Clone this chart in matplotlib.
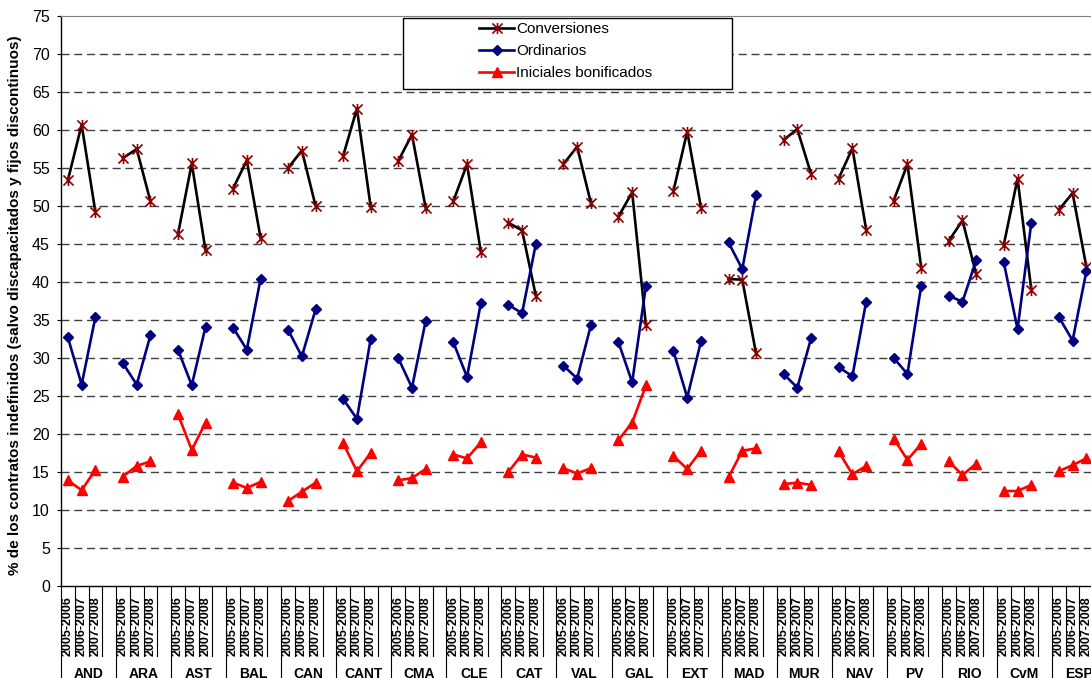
import numpy as np
import matplotlib
matplotlib.use("Agg")
import matplotlib.pyplot as plt
from matplotlib.path import Path
from matplotlib.patches import Rectangle
from matplotlib.transforms import blended_transform_factory

plt.rcParams["font.family"] = ["Liberation Sans", "DejaVu Sans"]

regions = ["AND", "ARA", "AST", "BAL", "CAN", "CANT", "CMA", "CLE", "CAT", "VAL",
           "GAL", "EXT", "MAD", "MUR", "NAV", "PV", "RIO", "CvM", "ESP"]
periods = ["2005-2006", "2006-2007", "2007-2008"]

# three values per region, in the order of periods
conversiones = [53.4, 60.7, 49.2, 56.3, 57.5, 50.6, 46.3, 55.6, 44.2, 52.3, 56.0, 45.8,
                55.0, 57.3, 50.0, 56.6, 62.8, 49.9, 55.9, 59.4, 49.7, 50.6, 55.5, 44.0,
                47.8, 46.8, 38.2, 55.5, 57.8, 50.4, 48.6, 51.8, 34.3, 52.0, 59.8, 49.8,
                40.4, 40.3, 30.6, 58.7, 60.1, 54.2, 53.6, 57.6, 46.9, 50.7, 55.5, 41.9,
                45.4, 48.1, 41.0, 44.9, 53.6, 39.0, 49.5, 51.7, 42.0]
ordinarios = [32.7, 26.5, 35.4, 29.3, 26.5, 33.0, 31.1, 26.4, 34.1, 34.0, 31.1, 40.4,
              33.7, 30.2, 36.4, 24.6, 22.0, 32.5, 30.0, 26.1, 34.9, 32.1, 27.5, 37.2,
              37.0, 35.9, 45.0, 29.0, 27.3, 34.3, 32.1, 26.8, 39.5, 30.9, 24.8, 32.2,
              45.2, 41.7, 51.4, 27.9, 26.1, 32.6, 28.8, 27.6, 37.4, 30.0, 27.9, 39.5,
              38.2, 37.4, 42.9, 42.6, 33.8, 47.8, 35.4, 32.3, 41.4]
iniciales = [13.9, 12.6, 15.3, 14.4, 15.8, 16.4, 22.6, 17.9, 21.5, 13.6, 12.9, 13.7,
             11.2, 12.4, 13.6, 18.8, 15.1, 17.5, 13.9, 14.2, 15.4, 17.3, 16.8, 18.9,
             15.0, 17.3, 16.9, 15.5, 14.8, 15.5, 19.2, 21.5, 26.4, 17.1, 15.4, 17.8,
             14.3, 17.8, 18.1, 13.4, 13.6, 13.3, 17.7, 14.7, 15.8, 19.4, 16.6, 18.7,
             16.4, 14.6, 16.1, 12.5, 12.5, 13.3, 15.1, 15.9, 16.8]

# each region takes 4 category slots: 3 periods and an empty one
SLOTS = 4
n_slots = len(regions) * SLOTS
x = np.arange(n_slots) + 0.5


def with_gaps(vals):
    arr = np.full(n_slots, np.nan)
    for r in range(len(regions)):
        arr[r * SLOTS:r * SLOTS + 3] = vals[r * 3:r * 3 + 3]
    return arr


# Excel-like star: an X with a vertical bar
star = Path([(-1, -1), (1, 1), (-1, 1), (1, -1), (0, -1.1), (0, 1.1)],
            [Path.MOVETO, Path.LINETO, Path.MOVETO, Path.LINETO, Path.MOVETO, Path.LINETO])

W, H = 1091, 678
fig = plt.figure(figsize=(W / 100, H / 100), dpi=100)
ax = fig.add_axes([61 / W, 92 / H, 1046 / W, 570 / H])

ax.plot(x, with_gaps(conversiones), color="black", lw=1.9, marker=star, ms=8,
        mec="#8b0000", mfc="none", mew=1.2, label="Conversiones", zorder=3)
ax.plot(x, with_gaps(ordinarios), color="#000080", lw=1.9, marker="D", ms=5,
        mec="#000080", mfc="#000080", label="Ordinarios", zorder=3)
ax.plot(x, with_gaps(iniciales), color="#ff0000", lw=1.9, marker="^", ms=7.5,
        mec="#ff0000", mfc="#ff0000", label="Iniciales bonificados", zorder=3)

ax.set_xlim(0, n_slots)
ax.set_ylim(0, 75)
ax.set_yticks(np.arange(0, 80, 5))
ax.tick_params(axis="y", labelsize=11.5, length=3, width=0.8, pad=5)
ax.set_xticks([])
for y in range(5, 75, 5):
    ax.axhline(y, color="#404040", lw=1, ls=(0, (5.8, 3.4)), zorder=1)

ax.spines["right"].set_visible(False)
ax.spines["top"].set_color("#808080")
ax.spines["left"].set_linewidth(1)
ax.spines["bottom"].set_linewidth(1)

ax.set_ylabel("% de los contratos indefinidos (salvo discapacitados y fijos discontinuos)",
              fontsize=11, fontweight="bold")
ax.yaxis.set_label_coords(-39 / 1046, 0.5 - 4 / 570)

# two-level category axis below the plot
trans = blended_transform_factory(ax.transData, ax.transAxes)
px = 1 / 570
for k in range(n_slots + 1):
    depth = 100 if k % SLOTS == 0 else 70
    ax.plot([k, k], [0, -depth * px], transform=trans, color="black", lw=0.8,
            clip_on=False)
for r, name in enumerate(regions):
    for j, p in enumerate(periods):
        ax.text(r * SLOTS + j + 0.5, -10 * px, p, rotation=90, ha="center", va="top",
                fontsize=9, fontweight="bold", transform=trans)
    ax.text(r * SLOTS + 2, -81 * px, name, ha="center", va="top", fontsize=10,
            fontweight="bold", transform=trans)

box = Rectangle((403 / W, 1 - 89 / H), 329 / W, 71 / H, transform=fig.transFigure,
                facecolor="white", edgecolor="black", lw=1, zorder=4, clip_on=False)
ax.add_patch(box)
ax.legend(loc="upper left", bbox_to_anchor=(479 / W, 1 - 22 / H),
          bbox_transform=fig.transFigure, frameon=False, fontsize=11,
          handlelength=2.3, handletextpad=0.15, labelspacing=0.52,
          borderpad=0, borderaxespad=0)

fig.savefig("out.png", dpi=100)
